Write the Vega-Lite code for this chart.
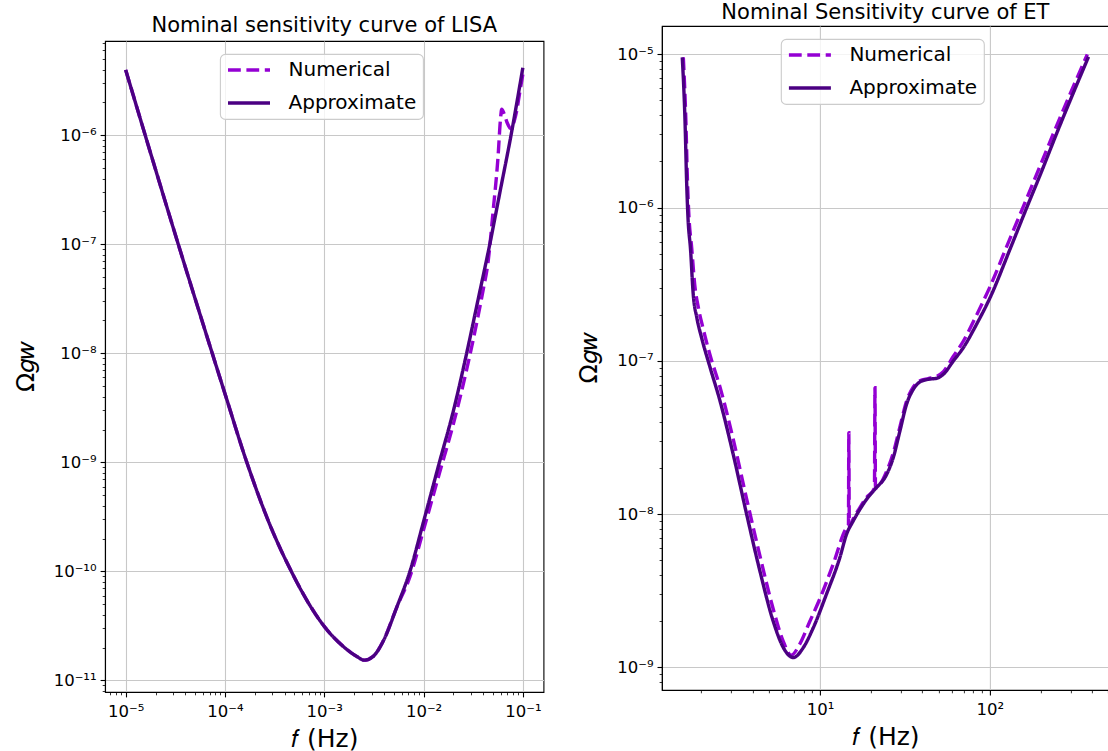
{
  "$schema": "https://vega.github.io/schema/vega-lite/v6.json",
  "background": "white",
  "padding": {"left": 12, "top": 1, "right": 0, "bottom": 0},
  "spacing": 556.9,
  "bounds": "flush",
  "align": "none",
  "resolve": {"scale": {"color": "independent", "strokeDash": "independent"}, "legend": {"color": "independent", "strokeDash": "independent"}},
  "config": {
    "font": "DejaVu Sans",
    "view": {"stroke": "black", "strokeWidth": 1.1},
    "title": {"font": "DejaVu Sans", "fontSize": 21, "fontWeight": "normal", "color": "black", "baseline": "bottom", "offset": 3, "anchor": "middle"},
    "axis": {"labelFont": "DejaVu Sans", "labelFontSize": 16.5, "labelColor": "black", "titleFont": "DejaVu Sans", "titleFontSize": 25, "titleFontWeight": "normal", "titleColor": "black", "domainColor": "black", "domainWidth": 1.1, "tickColor": "black", "gridColor": "#c8c8c8", "gridWidth": 1.1, "labelFlush": false, "labelOverlap": false},
    "axisX": {"labelPadding": 7, "titlePadding": 6},
    "axisY": {"labelPadding": 4, "titlePadding": 15},
    "legend": {"orient": "none", "legendX": 115, "legendY": 13, "fillColor": "rgba(255,255,255,0.8)", "strokeColor": "#cccccc", "strokeWidth": 1.1, "cornerRadius": 5, "padding": 6, "symbolType": "M-1,0H4.25", "symbolSize": 256, "symbolStrokeWidth": 3.4, "labelFont": "DejaVu Sans", "labelFontSize": 20, "labelColor": "black", "labelOffset": 42.5, "rowPadding": 13, "labelLimit": 300}
  },
  "hconcat": [
    {"spacing": 0, "bounds": "flush",
     "resolve": {"legend": {"color": "independent", "strokeDash": "independent"}},
     "vconcat": [
    {
      "width": 438.5,
      "height": 15,
      "view": {"stroke": null},
      "data": {"values": []},
      "mark": "point"
    },
    {
      "width": 438.5,
      "height": 651,
      "title": {"text": "Nominal sensitivity curve of LISA", "offset": -1},
      "data": {"values": [
        {"f": 1e-5, "omega": 3.981e-6, "series": "Approximate"},
        {"f": 1.778e-5, "omega": 6.918e-7, "series": "Approximate"},
        {"f": 3.388e-5, "omega": 1e-7, "series": "Approximate"},
        {"f": 7.447e-5, "omega": 1e-8, "series": "Approximate"},
        {"f": 1e-4, "omega": 4.266e-9, "series": "Approximate"},
        {"f": 1.660e-4, "omega": 1e-9, "series": "Approximate"},
        {"f": 2.838e-4, "omega": 2.667e-10, "series": "Approximate"},
        {"f": 4.656e-4, "omega": 1e-10, "series": "Approximate"},
        {"f": 7.145e-4, "omega": 4.898e-11, "series": "Approximate"},
        {"f": 1e-3, "omega": 3.126e-11, "series": "Approximate"},
        {"f": 1.549e-3, "omega": 2.051e-11, "series": "Approximate"},
        {"f": 2.118e-3, "omega": 1.660e-11, "series": "Approximate"},
        {"f": 2.529e-3, "omega": 1.531e-11, "series": "Approximate"},
        {"f": 3.112e-3, "omega": 1.660e-11, "series": "Approximate"},
        {"f": 3.926e-3, "omega": 2.291e-11, "series": "Approximate"},
        {"f": 5.370e-3, "omega": 4.677e-11, "series": "Approximate"},
        {"f": 7.295e-3, "omega": 1e-10, "series": "Approximate"},
        {"f": 1e-2, "omega": 2.858e-10, "series": "Approximate"},
        {"f": 1.445e-2, "omega": 1e-9, "series": "Approximate"},
        {"f": 1.995e-2, "omega": 2.951e-9, "series": "Approximate"},
        {"f": 2.716e-2, "omega": 1e-8, "series": "Approximate"},
        {"f": 3.556e-2, "omega": 3.162e-8, "series": "Approximate"},
        {"f": 4.645e-2, "omega": 1e-7, "series": "Approximate"},
        {"f": 5.943e-2, "omega": 3.162e-7, "series": "Approximate"},
        {"f": 7.603e-2, "omega": 1e-6, "series": "Approximate"},
        {"f": 0.1, "omega": 4.169e-6, "series": "Approximate"},
        {"f": 1e-5, "omega": 3.981e-6, "series": "Numerical"},
        {"f": 1.778e-5, "omega": 6.918e-7, "series": "Numerical"},
        {"f": 3.388e-5, "omega": 1e-7, "series": "Numerical"},
        {"f": 7.447e-5, "omega": 1e-8, "series": "Numerical"},
        {"f": 1e-4, "omega": 4.266e-9, "series": "Numerical"},
        {"f": 1.660e-4, "omega": 1e-9, "series": "Numerical"},
        {"f": 2.838e-4, "omega": 2.667e-10, "series": "Numerical"},
        {"f": 4.656e-4, "omega": 1e-10, "series": "Numerical"},
        {"f": 7.145e-4, "omega": 4.898e-11, "series": "Numerical"},
        {"f": 1e-3, "omega": 3.126e-11, "series": "Numerical"},
        {"f": 1.549e-3, "omega": 2.051e-11, "series": "Numerical"},
        {"f": 2.118e-3, "omega": 1.660e-11, "series": "Numerical"},
        {"f": 2.529e-3, "omega": 1.531e-11, "series": "Numerical"},
        {"f": 3.112e-3, "omega": 1.660e-11, "series": "Numerical"},
        {"f": 3.926e-3, "omega": 2.291e-11, "series": "Numerical"},
        {"f": 5.370e-3, "omega": 4.677e-11, "series": "Numerical"},
        {"f": 7.295e-3, "omega": 8.913e-11, "series": "Numerical"},
        {"f": 1e-2, "omega": 2.399e-10, "series": "Numerical"},
        {"f": 1.445e-2, "omega": 7.943e-10, "series": "Numerical"},
        {"f": 1.995e-2, "omega": 2.239e-9, "series": "Numerical"},
        {"f": 2.716e-2, "omega": 7.079e-9, "series": "Numerical"},
        {"f": 3.556e-2, "omega": 2.239e-8, "series": "Numerical"},
        {"f": 3.981e-2, "omega": 3.802e-8, "series": "Numerical"},
        {"f": 4.467e-2, "omega": 6.918e-8, "series": "Numerical"},
        {"f": 5.012e-2, "omega": 1.995e-7, "series": "Numerical"},
        {"f": 5.623e-2, "omega": 6.310e-7, "series": "Numerical"},
        {"f": 5.957e-2, "omega": 1.413e-6, "series": "Numerical"},
        {"f": 6.124e-2, "omega": 1.738e-6, "series": "Numerical"},
        {"f": 6.457e-2, "omega": 1.585e-6, "series": "Numerical"},
        {"f": 6.918e-2, "omega": 1.318e-6, "series": "Numerical"},
        {"f": 7.709e-2, "omega": 1.135e-6, "series": "Numerical"},
        {"f": 8.128e-2, "omega": 1.318e-6, "series": "Numerical"},
        {"f": 8.650e-2, "omega": 1.660e-6, "series": "Numerical"},
        {"f": 9.333e-2, "omega": 2.512e-6, "series": "Numerical"},
        {"f": 0.1, "omega": 3.631e-6, "series": "Numerical"}
      ]},
      "encoding": {
        "x": {"field": "f", "type": "quantitative", "scale": {"type": "log", "domain": [6.194e-6, 0.16144], "nice": false},
          "axis": {"title": "𝑓 (Hz)",
            "values": [7e-6, 8e-6, 9e-6, 1e-5, 2e-5, 3e-5, 4e-5, 5e-5, 6e-5, 7e-5, 8e-5, 9e-5, 1e-4, 2e-4, 3e-4, 4e-4, 5e-4, 6e-4, 7e-4, 8e-4, 9e-4, 1e-3, 2e-3, 3e-3, 4e-3, 5e-3, 6e-3, 7e-3, 8e-3, 9e-3, 1e-2, 2e-2, 3e-2, 4e-2, 5e-2, 6e-2, 7e-2, 8e-2, 9e-2, 0.1],
            "labelExpr": "abs(log(datum.value)/LN10 - round(log(datum.value)/LN10)) > 0.001 ? '' : ['10⁻¹¹','10⁻¹⁰','10⁻⁹','10⁻⁸','10⁻⁷','10⁻⁶','10⁻⁵','10⁻⁴','10⁻³','10⁻²','10⁻¹','10⁰','10¹','10²','10³'][round(log(datum.value)/LN10) + 11]",
            "tickSize": {"condition": {"test": "abs(log(datum.value)/LN10 - round(log(datum.value)/LN10)) < 0.001", "value": 4.9}, "value": 2.8},
            "tickWidth": {"condition": {"test": "abs(log(datum.value)/LN10 - round(log(datum.value)/LN10)) < 0.001", "value": 1.1}, "value": 0.8},
            "gridOpacity": {"condition": {"test": "abs(log(datum.value)/LN10 - round(log(datum.value)/LN10)) < 0.001", "value": 1}, "value": 0}
          }},
        "y": {"field": "omega", "type": "quantitative", "scale": {"type": "log", "domain": [7.816e-12, 7.328e-6], "nice": false},
          "axis": {"title": "Ω𝑔𝑤",
            "values": [8e-12, 9e-12, 1e-11, 2e-11, 3e-11, 4e-11, 5e-11, 6e-11, 7e-11, 8e-11, 9e-11, 1e-10, 2e-10, 3e-10, 4e-10, 5e-10, 6e-10, 7e-10, 8e-10, 9e-10, 1e-9, 2e-9, 3e-9, 4e-9, 5e-9, 6e-9, 7e-9, 8e-9, 9e-9, 1e-8, 2e-8, 3e-8, 4e-8, 5e-8, 6e-8, 7e-8, 8e-8, 9e-8, 1e-7, 2e-7, 3e-7, 4e-7, 5e-7, 6e-7, 7e-7, 8e-7, 9e-7, 1e-6, 2e-6, 3e-6, 4e-6, 5e-6, 6e-6, 7e-6],
            "labelExpr": "abs(log(datum.value)/LN10 - round(log(datum.value)/LN10)) > 0.001 ? '' : ['10⁻¹¹','10⁻¹⁰','10⁻⁹','10⁻⁸','10⁻⁷','10⁻⁶','10⁻⁵','10⁻⁴','10⁻³','10⁻²','10⁻¹','10⁰','10¹','10²','10³'][round(log(datum.value)/LN10) + 11]",
            "tickSize": {"condition": {"test": "abs(log(datum.value)/LN10 - round(log(datum.value)/LN10)) < 0.001", "value": 4.9}, "value": 2.8},
            "tickWidth": {"condition": {"test": "abs(log(datum.value)/LN10 - round(log(datum.value)/LN10)) < 0.001", "value": 1.1}, "value": 0.8},
            "gridOpacity": {"condition": {"test": "abs(log(datum.value)/LN10 - round(log(datum.value)/LN10)) < 0.001", "value": 1}, "value": 0}
          }},
        "color": {"field": "series", "type": "nominal", "scale": {"domain": ["Numerical", "Approximate"], "range": ["#9400D3", "#4B0082"]}, "legend": {"title": null}},
        "strokeDash": {"field": "series", "type": "nominal", "scale": {"domain": ["Numerical", "Approximate"], "range": [[12.8, 5.6], [1, 0]]}, "legend": {"title": null}}
      },
      "layer": [
        {"transform": [{"filter": "datum.series === 'Numerical'"}], "mark": {"type": "line", "strokeWidth": 3.4, "interpolate": "monotone"}},
        {"transform": [{"filter": "datum.series === 'Approximate'"}], "mark": {"type": "line", "strokeWidth": 3.4, "interpolate": "monotone"}}
      ]
    }
    ]},
    {"bounds": "flush", "vconcat": [
    {
      "width": 447,
      "height": 664,
      "title": {"text": "Nominal Sensitivity curve of ET"},
      "data": {"values": [
        {"f": 1.545, "omega": 9.550e-6, "series": "Approximate"},
        {"f": 1.603, "omega": 3.715e-6, "series": "Approximate"},
        {"f": 1.641, "omega": 1.413e-6, "series": "Approximate"},
        {"f": 1.667, "omega": 8.913e-7, "series": "Approximate"},
        {"f": 1.730, "omega": 5.248e-7, "series": "Approximate"},
        {"f": 1.791, "omega": 2.754e-7, "series": "Approximate"},
        {"f": 1.884, "omega": 1.905e-7, "series": "Approximate"},
        {"f": 2.009, "omega": 1.413e-7, "series": "Approximate"},
        {"f": 2.249, "omega": 9.120e-8, "series": "Approximate"},
        {"f": 2.576, "omega": 5.495e-8, "series": "Approximate"},
        {"f": 3.083, "omega": 2.455e-8, "series": "Approximate"},
        {"f": 3.698, "omega": 1e-8, "series": "Approximate"},
        {"f": 4.426, "omega": 4.266e-9, "series": "Approximate"},
        {"f": 5.309, "omega": 1.995e-9, "series": "Approximate"},
        {"f": 6.081, "omega": 1.349e-9, "series": "Approximate"},
        {"f": 6.966, "omega": 1.161e-9, "series": "Approximate"},
        {"f": 7.980, "omega": 1.349e-9, "series": "Approximate"},
        {"f": 9.141, "omega": 1.820e-9, "series": "Approximate"},
        {"f": 10.94, "omega": 3.020e-9, "series": "Approximate"},
        {"f": 13.12, "omega": 5.248e-9, "series": "Approximate"},
        {"f": 14.35, "omega": 7.413e-9, "series": "Approximate"},
        {"f": 15.70, "omega": 9.036e-9, "series": "Approximate"},
        {"f": 17.22, "omega": 1.079e-8, "series": "Approximate"},
        {"f": 18.84, "omega": 1.253e-8, "series": "Approximate"},
        {"f": 21.09, "omega": 1.455e-8, "series": "Approximate"},
        {"f": 24.72, "omega": 1.820e-8, "series": "Approximate"},
        {"f": 27.04, "omega": 2.344e-8, "series": "Approximate"},
        {"f": 29.58, "omega": 3.491e-8, "series": "Approximate"},
        {"f": 32.43, "omega": 5.248e-8, "series": "Approximate"},
        {"f": 35.48, "omega": 6.531e-8, "series": "Approximate"},
        {"f": 38.82, "omega": 7.295e-8, "series": "Approximate"},
        {"f": 43.45, "omega": 7.586e-8, "series": "Approximate"},
        {"f": 48.75, "omega": 7.709e-8, "series": "Approximate"},
        {"f": 53.33, "omega": 8.185e-8, "series": "Approximate"},
        {"f": 61.09, "omega": 1e-7, "series": "Approximate"},
        {"f": 69.98, "omega": 1.222e-7, "series": "Approximate"},
        {"f": 83.75, "omega": 1.738e-7, "series": "Approximate"},
        {"f": 100.5, "omega": 2.588e-7, "series": "Approximate"},
        {"f": 131.8, "omega": 5.370e-7, "series": "Approximate"},
        {"f": 165.2, "omega": 1e-6, "series": "Approximate"},
        {"f": 197.7, "omega": 1.622e-6, "series": "Approximate"},
        {"f": 251.2, "omega": 3.162e-6, "series": "Approximate"},
        {"f": 381.9, "omega": 9.638e-6, "series": "Approximate"},
        {"f": 1.567, "omega": 9.550e-6, "series": "Numerical"},
        {"f": 1.622, "omega": 3.715e-6, "series": "Numerical"},
        {"f": 1.660, "omega": 1.413e-6, "series": "Numerical"},
        {"f": 1.690, "omega": 8.913e-7, "series": "Numerical"},
        {"f": 1.758, "omega": 5.370e-7, "series": "Numerical"},
        {"f": 1.828, "omega": 3.162e-7, "series": "Numerical"},
        {"f": 1.928, "omega": 2.188e-7, "series": "Numerical"},
        {"f": 2.051, "omega": 1.622e-7, "series": "Numerical"},
        {"f": 2.249, "omega": 1.096e-7, "series": "Numerical"},
        {"f": 2.576, "omega": 6.761e-8, "series": "Numerical"},
        {"f": 3.083, "omega": 3.090e-8, "series": "Numerical"},
        {"f": 3.698, "omega": 1.259e-8, "series": "Numerical"},
        {"f": 4.426, "omega": 5.370e-9, "series": "Numerical"},
        {"f": 5.309, "omega": 2.399e-9, "series": "Numerical"},
        {"f": 6.081, "omega": 1.479e-9, "series": "Numerical"},
        {"f": 6.761, "omega": 1.202e-9, "series": "Numerical"},
        {"f": 7.586, "omega": 1.413e-9, "series": "Numerical"},
        {"f": 8.710, "omega": 1.995e-9, "series": "Numerical"},
        {"f": 10.0, "omega": 2.818e-9, "series": "Numerical"},
        {"f": 12.02, "omega": 4.786e-9, "series": "Numerical"},
        {"f": 14.13, "omega": 7.943e-9, "series": "Numerical"},
        {"f": 14.72, "omega": 8.511e-9, "series": "Numerical"},
        {"f": 14.79, "omega": 3.404e-8, "series": "Numerical"},
        {"f": 14.89, "omega": 8.318e-9, "series": "Numerical"},
        {"f": 15.70, "omega": 9.333e-9, "series": "Numerical"},
        {"f": 17.22, "omega": 1.109e-8, "series": "Numerical"},
        {"f": 18.84, "omega": 1.288e-8, "series": "Numerical"},
        {"f": 20.94, "omega": 1.479e-8, "series": "Numerical"},
        {"f": 21.09, "omega": 6.699e-8, "series": "Numerical"},
        {"f": 21.23, "omega": 1.479e-8, "series": "Numerical"},
        {"f": 24.72, "omega": 1.905e-8, "series": "Numerical"},
        {"f": 27.04, "omega": 2.512e-8, "series": "Numerical"},
        {"f": 29.58, "omega": 3.715e-8, "series": "Numerical"},
        {"f": 32.43, "omega": 5.495e-8, "series": "Numerical"},
        {"f": 35.48, "omega": 6.761e-8, "series": "Numerical"},
        {"f": 38.82, "omega": 7.413e-8, "series": "Numerical"},
        {"f": 43.45, "omega": 7.674e-8, "series": "Numerical"},
        {"f": 48.75, "omega": 7.943e-8, "series": "Numerical"},
        {"f": 53.33, "omega": 8.511e-8, "series": "Numerical"},
        {"f": 61.09, "omega": 1.072e-7, "series": "Numerical"},
        {"f": 69.98, "omega": 1.349e-7, "series": "Numerical"},
        {"f": 83.75, "omega": 1.995e-7, "series": "Numerical"},
        {"f": 100.0, "omega": 3.020e-7, "series": "Numerical"},
        {"f": 131.8, "omega": 6.310e-7, "series": "Numerical"},
        {"f": 165.2, "omega": 1.148e-6, "series": "Numerical"},
        {"f": 197.7, "omega": 1.862e-6, "series": "Numerical"},
        {"f": 251.2, "omega": 3.548e-6, "series": "Numerical"},
        {"f": 375.8, "omega": 1.0e-5, "series": "Numerical"}
      ]},
      "encoding": {
        "x": {"field": "f", "type": "quantitative", "scale": {"type": "log", "domain": [1.172, 503.5], "nice": false},
          "axis": {"title": "𝑓 (Hz)",
            "values": [2, 3, 4, 5, 6, 7, 8, 9, 10, 20, 30, 40, 50, 60, 70, 80, 90, 100, 200, 300, 400, 500],
            "labelExpr": "abs(log(datum.value)/LN10 - round(log(datum.value)/LN10)) > 0.001 ? '' : ['10⁻¹¹','10⁻¹⁰','10⁻⁹','10⁻⁸','10⁻⁷','10⁻⁶','10⁻⁵','10⁻⁴','10⁻³','10⁻²','10⁻¹','10⁰','10¹','10²','10³'][round(log(datum.value)/LN10) + 11]",
            "tickSize": {"condition": {"test": "abs(log(datum.value)/LN10 - round(log(datum.value)/LN10)) < 0.001", "value": 4.9}, "value": 2.8},
            "tickWidth": {"condition": {"test": "abs(log(datum.value)/LN10 - round(log(datum.value)/LN10)) < 0.001", "value": 1.1}, "value": 0.8},
            "gridOpacity": {"condition": {"test": "abs(log(datum.value)/LN10 - round(log(datum.value)/LN10)) < 0.001", "value": 1}, "value": 0}
          }},
        "y": {"field": "omega", "type": "quantitative", "scale": {"type": "log", "domain": [7.129e-10, 1.531e-5], "nice": false},
          "axis": {"title": "Ω𝑔𝑤",
            "values": [8e-10, 9e-10, 1e-9, 2e-9, 3e-9, 4e-9, 5e-9, 6e-9, 7e-9, 8e-9, 9e-9, 1e-8, 2e-8, 3e-8, 4e-8, 5e-8, 6e-8, 7e-8, 8e-8, 9e-8, 1e-7, 2e-7, 3e-7, 4e-7, 5e-7, 6e-7, 7e-7, 8e-7, 9e-7, 1e-6, 2e-6, 3e-6, 4e-6, 5e-6, 6e-6, 7e-6, 8e-6, 9e-6, 1e-5],
            "labelExpr": "abs(log(datum.value)/LN10 - round(log(datum.value)/LN10)) > 0.001 ? '' : ['10⁻¹¹','10⁻¹⁰','10⁻⁹','10⁻⁸','10⁻⁷','10⁻⁶','10⁻⁵','10⁻⁴','10⁻³','10⁻²','10⁻¹','10⁰','10¹','10²','10³'][round(log(datum.value)/LN10) + 11]",
            "tickSize": {"condition": {"test": "abs(log(datum.value)/LN10 - round(log(datum.value)/LN10)) < 0.001", "value": 4.9}, "value": 2.8},
            "tickWidth": {"condition": {"test": "abs(log(datum.value)/LN10 - round(log(datum.value)/LN10)) < 0.001", "value": 1.1}, "value": 0.8},
            "gridOpacity": {"condition": {"test": "abs(log(datum.value)/LN10 - round(log(datum.value)/LN10)) < 0.001", "value": 1}, "value": 0}
          }},
        "color": {"field": "series", "type": "nominal", "scale": {"domain": ["Numerical", "Approximate"], "range": ["#9400D3", "#4B0082"]}, "legend": {"title": null, "legendX": 119}},
        "strokeDash": {"field": "series", "type": "nominal", "scale": {"domain": ["Numerical", "Approximate"], "range": [[12.8, 5.6], [1, 0]]}, "legend": {"title": null, "legendX": 119}}
      },
      "layer": [
        {"transform": [{"filter": "datum.series === 'Numerical'"}], "mark": {"type": "line", "strokeWidth": 3.4, "interpolate": "monotone"}},
        {"transform": [{"filter": "datum.series === 'Approximate'"}], "mark": {"type": "line", "strokeWidth": 3.4, "interpolate": "monotone"}}
      ]
    }
    ]}
  ]
}
